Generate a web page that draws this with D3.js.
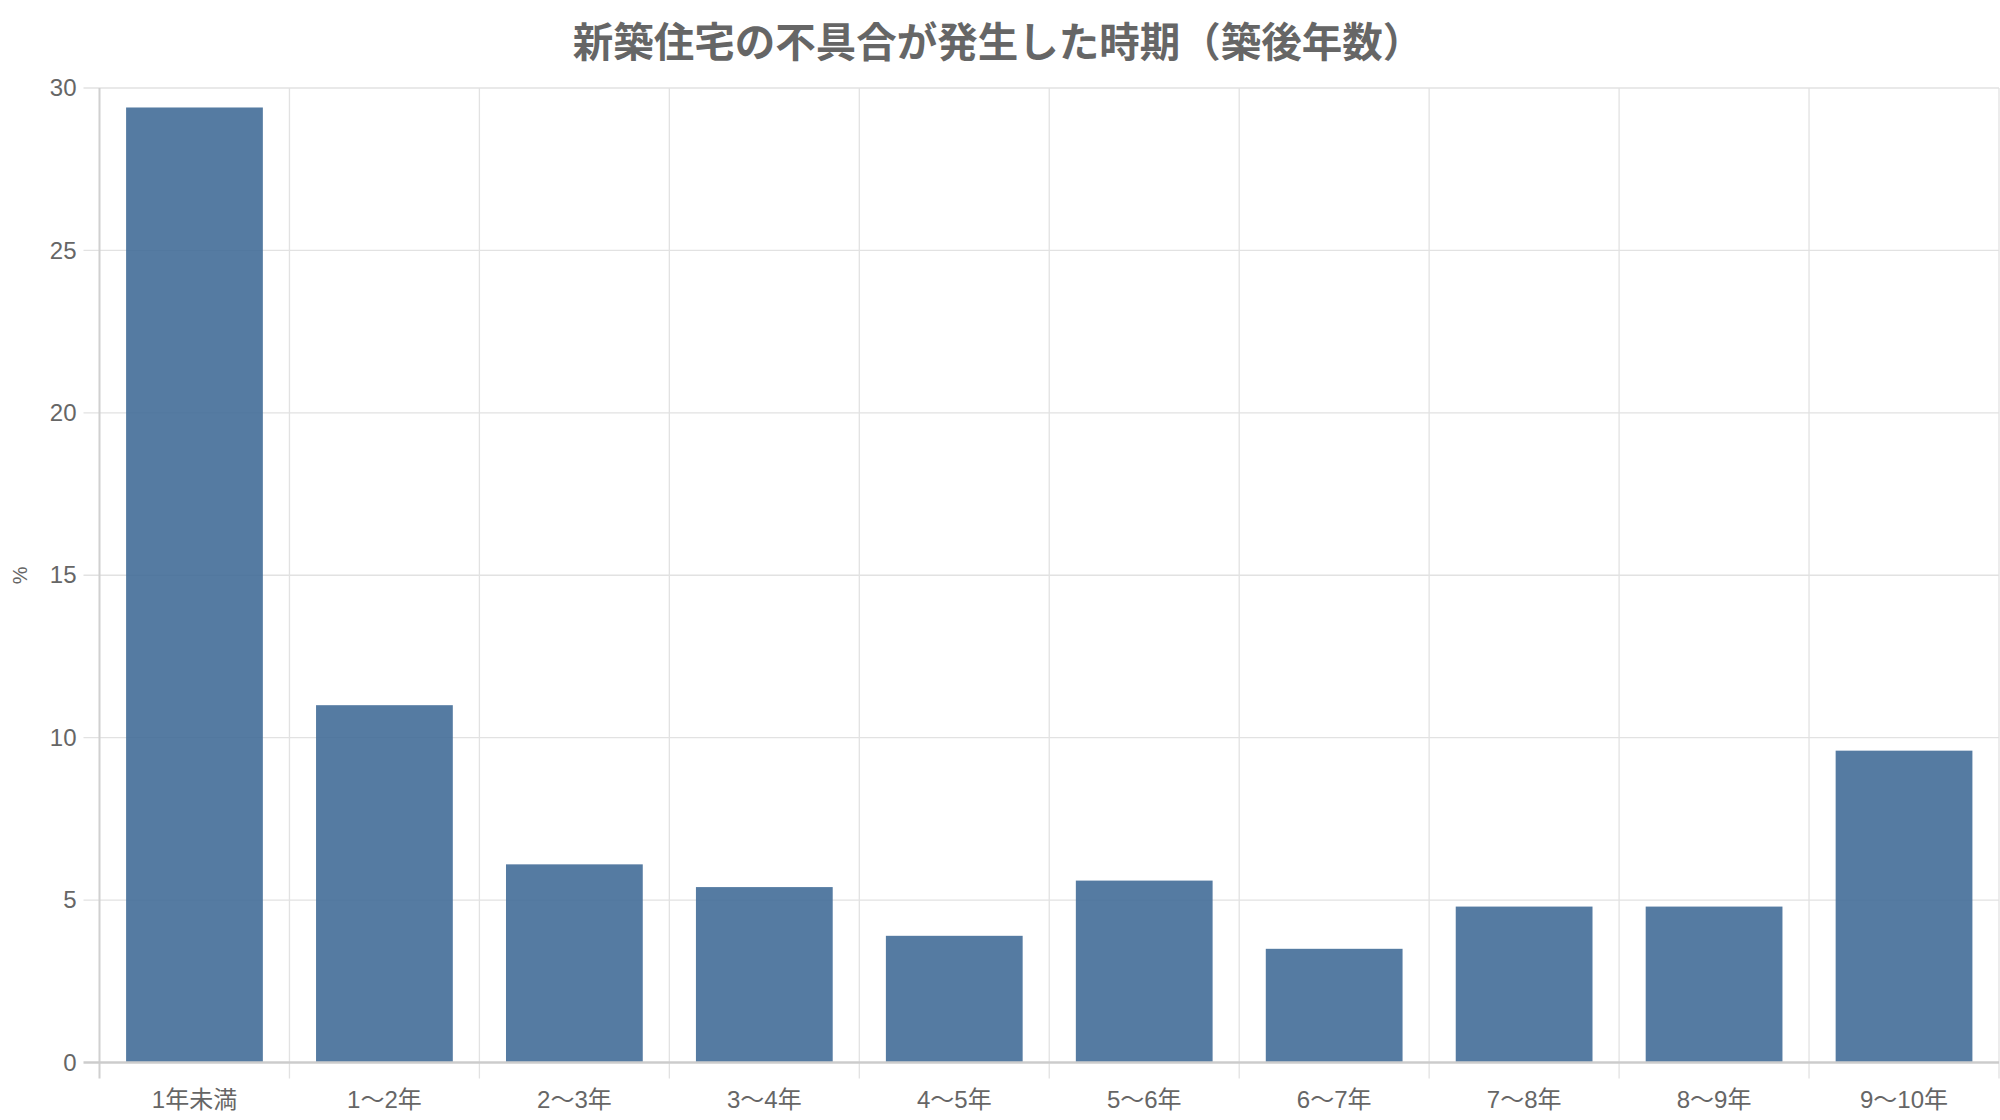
<!DOCTYPE html>
<html>
<head>
<meta charset="utf-8">
<script src="https://cdn.jsdelivr.net/npm/d3@7"></script>
<style>
  html, body { margin: 0; padding: 0; background: #fff; }
  svg text { font-family: "Liberation Sans", Arial, "Noto Sans CJK JP", sans-serif; }
</style>
</head>
<body>
<div id="chart"></div>
<script>
// data
var categories = ["1年未満", "1〜2年", "2〜3年", "3〜4年", "4〜5年", "5〜6年", "6〜7年", "7〜8年", "8〜9年", "9〜10年"];
var values = [29.4, 11.0, 6.1, 5.4, 3.9, 5.6, 3.5, 4.8, 4.8, 9.6];
var yTicks = [0, 5, 10, 15, 20, 25, 30];
var title = "新築住宅の不具合が発生した時期（築後年数）";
var yLabel = "%";

function drawChart() {
    const W = 2000, H = 1120;
    const margin = { top: 88, right: 1, bottom: 57.5, left: 99.5 };
    const width = W - margin.left - margin.right;
    const height = H - margin.top - margin.bottom;

    const x = d3.scaleBand().domain(categories).range([0, width])
        .paddingInner(0.28).paddingOuter(0.14);
    const y = d3.scaleLinear().domain([0, 30]).range([height, 0]);

    const svg = d3.select("#chart")
        .append("svg")
        .attr("width", W)
        .attr("height", H);

    svg.append("text")
        .attr("x", W / 2 - 2)
        .attr("y", 46)
        .attr("text-anchor", "middle")
        .attr("dominant-baseline", "middle")
        .attr("font-size", 40.5)
        .attr("font-weight", "bold")
        .attr("fill", "#666")
        .text(title);

    svg.append("text")
        .attr("transform", `translate(22, ${margin.top + height / 2}) rotate(-90)`)
        .attr("text-anchor", "middle")
        .attr("dominant-baseline", "middle")
        .attr("font-size", 20)
        .attr("fill", "#666")
        .text(yLabel);

    const g = svg.append("g")
        .attr("transform", `translate(${margin.left}, ${margin.top})`);

    // horizontal grid
    g.append("g").selectAll("line")
        .data(yTicks.filter(d => d !== 0))
        .join("line")
        .attr("x1", -16).attr("x2", width)
        .attr("y1", d => y(d)).attr("y2", d => y(d))
        .attr("stroke", "#e2e2e2")
        .attr("stroke-width", 1.3);

    // vertical grid at category boundaries
    const bounds = categories.map(c => x(c) - x.step() * x.paddingOuter());
    bounds.push(width);
    g.append("g").selectAll("line")
        .data(bounds.slice(1))
        .join("line")
        .attr("x1", d => d).attr("x2", d => d)
        .attr("y1", 0).attr("y2", height + 16)
        .attr("stroke", "#e2e2e2")
        .attr("stroke-width", 1.3);

    // bars
    g.selectAll(".bar")
        .data(values)
        .join("rect")
        .attr("class", "bar")
        .attr("x", (d, i) => x(categories[i]))
        .attr("y", d => y(d))
        .attr("width", x.bandwidth())
        .attr("height", d => y(0) - y(d))
        .attr("fill", "rgb(66,109,152)")
        .attr("fill-opacity", 0.9);

    // axis lines
    g.append("line")
        .attr("x1", 0).attr("x2", 0)
        .attr("y1", 0).attr("y2", height + 16)
        .attr("stroke", "#d0d0d0").attr("stroke-width", 2);
    g.append("line")
        .attr("x1", -16).attr("x2", width)
        .attr("y1", y(0)).attr("y2", y(0))
        .attr("stroke", "#cccccc").attr("stroke-width", 2.5);

    const yAxis = d3.axisLeft(y).tickValues(yTicks).tickSize(0).tickPadding(23);
    g.append("g")
        .call(yAxis)
        .call(s => s.select(".domain").remove())
        .selectAll("text")
        .attr("font-size", 24)
        .attr("fill", "#666");

    const xAxis = d3.axisBottom(x).tickSize(0).tickPadding(28);
    g.append("g")
        .attr("transform", `translate(0, ${height})`)
        .call(xAxis)
        .call(s => s.select(".domain").remove())
        .selectAll("text")
        .attr("font-size", 24)
        .attr("fill", "#666");
}

drawChart();
</script>
</body>
</html>
